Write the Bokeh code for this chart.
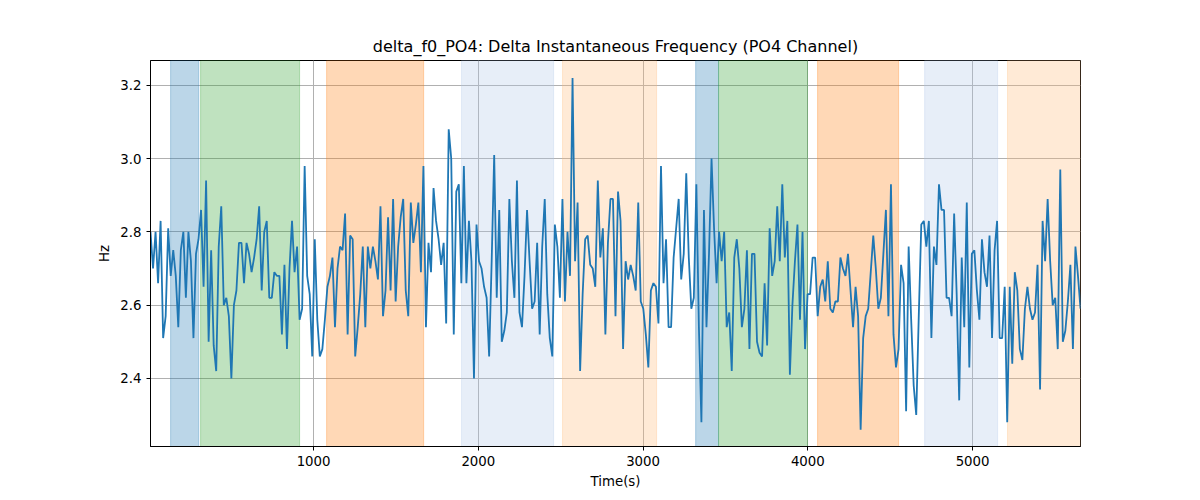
import numpy as np
from bokeh.plotting import figure
from bokeh.models import BoxAnnotation, Range1d, FixedTicker, CustomJSTickFormatter
from bokeh.embed import file_html
from bokeh.resources import INLINE

values = [2.80,2.70,2.80,2.66,2.83,2.51,2.57,2.81,2.68,2.75,2.68,2.54,2.75,2.80,2.62,2.80,2.72,2.51,2.74,2.78,2.86,2.65,2.94,2.50,2.75,2.49,2.42,2.76,2.87,2.60,2.62,2.57,2.40,2.60,2.64,2.77,2.77,2.66,2.77,2.74,2.69,2.73,2.78,2.87,2.64,2.80,2.83,2.62,2.62,2.69,2.68,2.68,2.52,2.71,2.48,2.70,2.83,2.69,2.76,2.56,2.59,2.98,2.68,2.63,2.46,2.78,2.56,2.46,2.48,2.56,2.65,2.68,2.73,2.54,2.70,2.76,2.75,2.85,2.52,2.79,2.78,2.46,2.54,2.63,2.76,2.54,2.76,2.70,2.76,2.72,2.67,2.87,2.57,2.64,2.84,2.64,2.89,2.61,2.76,2.84,2.89,2.64,2.57,2.88,2.77,2.82,2.88,2.69,2.98,2.54,2.77,2.69,2.92,2.83,2.78,2.71,2.77,2.55,3.08,3.00,2.52,2.91,2.93,2.66,2.98,
2.66,2.83,2.72,2.40,2.82,2.72,2.70,2.65,2.62,2.46,2.72,3.01,2.62,2.86,2.50,2.53,2.58,2.89,2.72,2.62,2.94,2.58,2.54,2.68,2.86,2.72,2.59,2.61,2.77,2.52,2.76,2.89,2.63,2.51,2.46,2.82,2.76,2.62,2.89,2.61,2.80,2.68,3.22,2.72,2.88,2.42,2.63,2.78,2.79,2.71,2.70,2.65,2.94,2.73,2.81,2.52,2.77,2.89,2.89,2.57,2.91,2.83,2.48,2.72,2.67,2.71,2.68,2.64,2.88,2.61,2.59,2.52,2.43,2.64,2.66,2.65,2.55,2.98,2.66,2.78,2.54,2.54,2.73,2.81,2.89,2.67,2.74,2.96,2.73,2.59,2.62,2.93,2.54,2.28,2.86,2.54,2.74,3.00,2.81,2.66,2.80,2.72,2.80,2.54,2.58,2.42,2.73,2.78,2.70,2.54,2.59,2.75,2.48,2.74,2.74,2.50,2.47,2.46,2.66,2.49,2.81,2.68,2.72,2.87,
2.72,2.93,2.73,2.83,2.41,2.60,2.72,2.82,2.56,2.80,2.48,2.63,2.63,2.73,2.73,2.57,2.65,2.67,2.61,2.72,2.59,2.58,2.61,2.61,2.73,2.70,2.68,2.74,2.64,2.54,2.65,2.57,2.26,2.51,2.57,2.59,2.69,2.79,2.70,2.59,2.62,2.74,2.86,2.57,2.93,2.52,2.43,2.48,2.71,2.66,2.31,2.76,2.56,2.38,2.30,2.57,2.82,2.83,2.76,2.83,2.51,2.76,2.71,2.93,2.86,2.86,2.62,2.62,2.57,2.85,2.63,2.34,2.73,2.54,2.88,2.43,2.74,2.75,2.64,2.56,2.78,2.69,2.65,2.79,2.51,2.75,2.83,2.51,2.51,2.65,2.28,2.65,2.44,2.69,2.64,2.48,2.45,2.59,2.65,2.59,2.56,2.58,2.71,2.37,2.83,2.72,2.89,2.72,2.60,2.62,2.48,2.97,2.50,2.53,2.61,2.71,2.48,2.76,2.68,2.59]

t_start, t_end = 10, 5655
times = np.linspace(t_start, t_end, len(values))

band_starts = [132, 314, 1079, 1898, 2511, 3319, 3458, 4059, 4709, 5212]
band_ends = [303, 915, 1668, 2457, 3082, 3458, 3998, 4551, 5152, 5655]
band_colors = ["#1f77b4", "#2ca02c", "#ff7f0e", "#aec7e8", "#ffbb78",
               "#1f77b4", "#2ca02c", "#ff7f0e", "#aec7e8", "#ffbb78"]

p = figure(width=1184, height=491, output_backend="svg", toolbar_location=None,
           title="delta_f0_PO4: Delta Instantaneous Frequency (PO4 Channel)",
           x_range=Range1d(t_start, t_end), y_range=Range1d(2.214, 3.268),
           min_border_left=150, min_border_right=104, min_border_top=60, min_border_bottom=32)
p.title.align = "center"
p.title.text_font = "DejaVu Sans"
p.title.text_font_size = "12pt"
p.title.text_font_style = "normal"
p.title.text_color = "black"

for s, e, c in zip(band_starts, band_ends, band_colors):
    p.add_layout(BoxAnnotation(left=s, right=e, fill_color=c, fill_alpha=0.3,
                               line_color=c, line_alpha=0.3, level="underlay"))

p.line(times, values, line_color="#1f77b4", line_width=1.8)

for ax in (p.xaxis[0], p.yaxis[0]):
    ax.axis_label_text_font = "DejaVu Sans"
    ax.axis_label_text_font_style = "normal"
    ax.axis_label_text_font_size = "10pt"
    ax.axis_label_text_color = "black"
    ax.major_label_text_font = "DejaVu Sans"
    ax.major_label_text_font_size = "10pt"
    ax.major_label_text_color = "black"
    ax.minor_tick_line_color = None
    ax.major_tick_out = 4
    ax.major_tick_in = 0
    ax.axis_line_color = "black"
    ax.major_tick_line_color = "black"
p.xaxis.axis_label = "Time(s)"
p.yaxis.axis_label = "Hz"
p.xaxis.ticker = FixedTicker(ticks=[1000, 2000, 3000, 4000, 5000])
p.yaxis.ticker = FixedTicker(ticks=[2.4, 2.6, 2.8, 3.0, 3.2])
p.yaxis.formatter = CustomJSTickFormatter(code="return tick.toFixed(1);")
p.grid.grid_line_color = "#b0b0b0"
p.grid.grid_line_alpha = 1
p.outline_line_color = "black"
p.outline_line_alpha = 1

open("out.html", "w").write(file_html(p, INLINE))
